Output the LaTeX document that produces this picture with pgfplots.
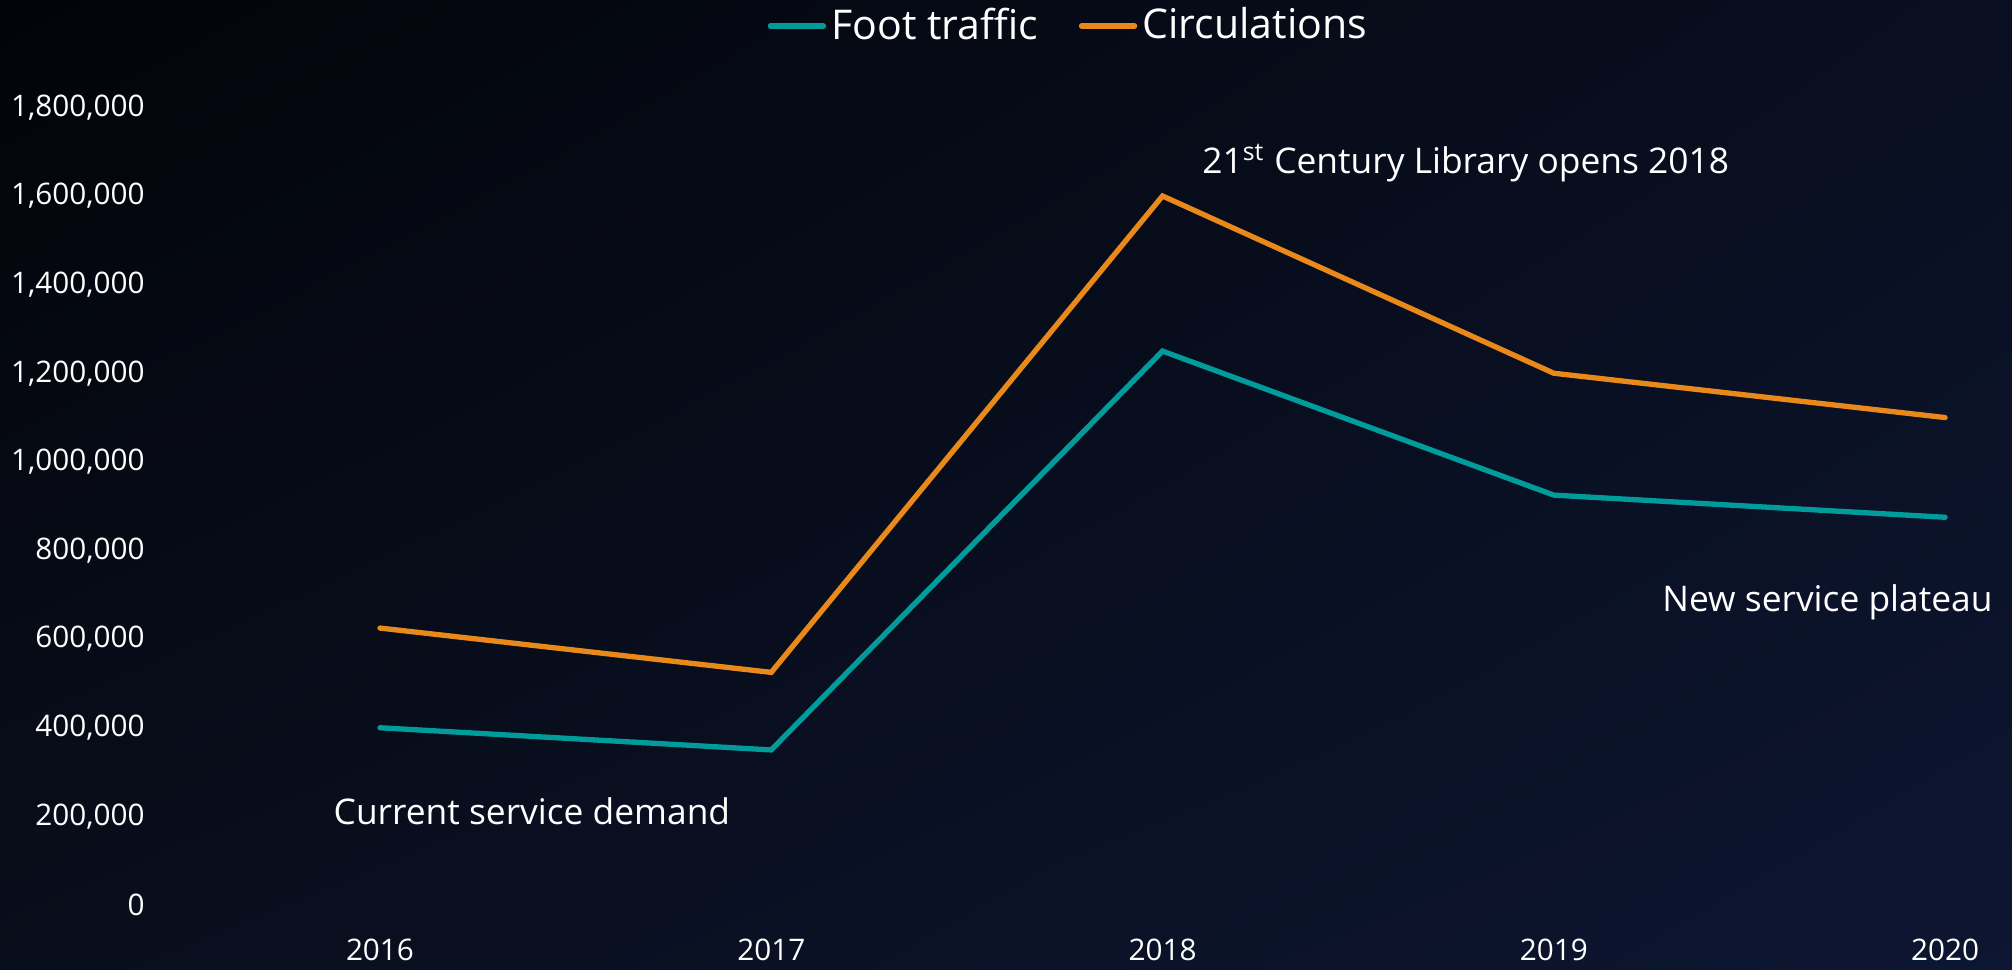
\documentclass[border=0pt]{standalone}
\usepackage{fontspec}
\setmainfont{Open Sans}
\usepackage{pgfplots}
\pgfplotsset{compat=1.18}
\usetikzlibrary{shadings}

\definecolor{teal1}{HTML}{009C9C}
\definecolor{orng}{HTML}{E8891A}
\definecolor{bgUL}{RGB}{2,4,9}
\definecolor{bgUR}{RGB}{9,15,32}
\definecolor{bgLL}{RGB}{9,14,28}
\definecolor{bgLR}{RGB}{13,22,50}

\begin{document}
\begin{tikzpicture}
% page = 2012x969 px -> 569.05pt x 274.06pt
\path[use as bounding box] (0,0) rectangle (569.05pt,274.06pt);
\shade[upper left=bgUL, upper right=bgUR, lower left=bgLL, lower right=bgLR]
  (0,0) rectangle (569.05pt,274.06pt);
\begin{axis}[
    at={(46.6pt,18.1pt)}, anchor=south west,
    scale only axis,
    width=516.8pt, height=225.6pt,
    xmin=2015.45, xmax=2020.12,
    ymin=0, ymax=1800000,
    xtick={2016,2017,2018,2019,2020},
    ytick={0,200000,400000,600000,800000,1000000,1200000,1400000,1600000,1800000},
    scaled y ticks=false,
    /pgf/number format/.cd, fixed, 1000 sep={,}, assume math mode=true,
    /pgfplots/.cd,
    xticklabel={\pgfmathprintnumber[1000 sep={}]{\tick}},
    axis line style={draw=none},
    tick style={draw=none},
    tick label style={font=\fontsize{8.4}{10}\selectfont, text=white},
    xticklabel style={anchor=center, yshift=-12.7pt},
    yticklabel style={xshift=-2.2pt},
    clip=false,
    legend columns=2,
    legend style={at={(0.4954,1.102)}, anchor=center, draw=none, fill=none,
        text=white, font=\fontsize{11.6}{14}\selectfont,
        nodes={inner xsep=1.5pt},
        /tikz/every odd column/.append style={column sep=0pt},
        /tikz/every even column/.append style={column sep=10pt}},
    legend image code/.code={\draw[#1, line cap=round] (0pt,0pt) -- (15pt,0pt);},
]
\addplot[teal1, line width=1.5pt, line cap=round] coordinates {(2016,400000) (2017,350000) (2018,1250000) (2019,925000) (2020,875000)};
\addplot[orng, line width=1.5pt, line cap=round] coordinates {(2016,625000) (2017,525000) (2018,1600000) (2019,1200000) (2020,1100000)};
\legend{Foot traffic, Circulations}

\node[anchor=west, inner sep=0, text=white, font=\fontsize{10}{12}\selectfont] at (axis cs:2015.88,212000) {Current service demand};
\node[anchor=west, inner sep=0, text=white, font=\fontsize{10}{12}\selectfont] at (axis cs:2018.10,1675000) {21\textsuperscript{st} Century Library opens 2018};
\node[anchor=east, inner sep=0, text=white, font=\fontsize{10}{12}\selectfont] at (axis cs:2020.123,682000) {New service plateau};
\end{axis}
\end{tikzpicture}
\end{document}
